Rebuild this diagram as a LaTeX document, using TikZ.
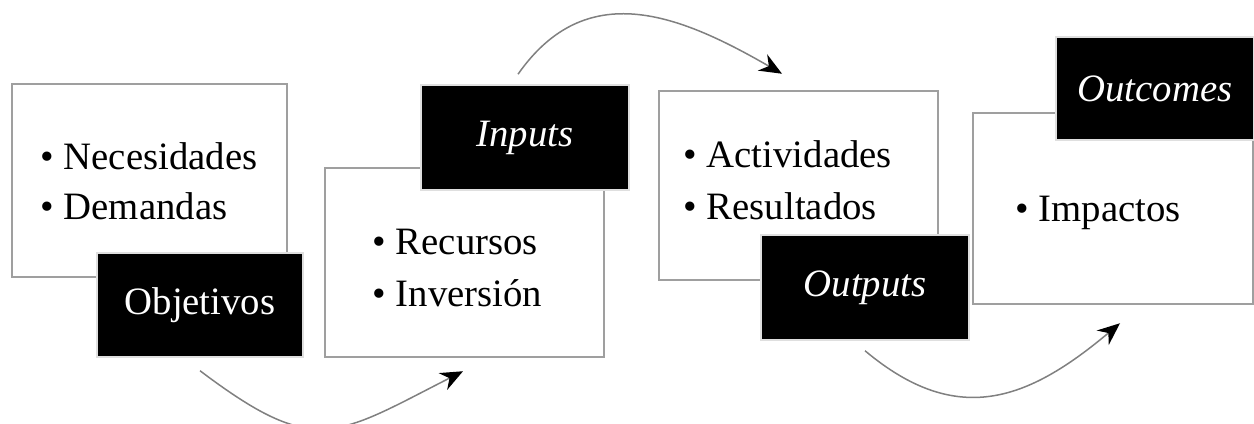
\documentclass[tikz,border=0pt]{standalone}
\usepackage{fontspec}
\setmainfont{Liberation Serif}
\usepackage{xcolor}
\usepackage{tikz}
\usetikzlibrary{arrows.meta}

\begin{document}
\begin{tikzpicture}[x=0.4pt,y=-0.4pt,
  box/.style={draw=gray!75,line width=1pt,fill=white,inner sep=0pt},
  tag/.style={draw=gray!25,line width=0.6pt,fill=black,text=white,inner sep=0pt,font=\fontsize{15.5}{20}\selectfont},
  item/.style={anchor=base west,inner sep=0pt,font=\fontsize{15.5}{20}\selectfont},
  flow/.style={draw=gray,line width=0.6pt,-{Stealth[length=9pt,width=7.5pt,black]}}]
\useasboundingbox (0,0) rectangle (1254,424);
% caja 1
\node[box,minimum width=110pt,minimum height=77.2pt] (nec) at (149.5,180.5) {};
\node[item] (nec1) at (40,170) {• Necesidades};
\node[item] (nec2) at (40,220) {• Demandas};
\node[tag,minimum width=82.4pt,minimum height=41.6pt] (obj) at (200,305) {Objetivos};
% caja 2
\node[box,minimum width=111.6pt,minimum height=75.6pt] (rec) at (464.5,262.5) {};
\node[item] (rec1) at (372,255) {• Recursos};
\node[item] (rec2) at (372,307) {• Inversión};
\node[tag,minimum width=83.2pt,minimum height=42pt] (inp) at (525,137.5) {\textit{Inputs}};
% caja 3
\node[box,minimum width=111.6pt,minimum height=75.6pt] (act) at (798.5,185.5) {};
\node[item] (act1) at (683,168) {• Actividades};
\node[item] (act2) at (683,220) {• Resultados};
\node[tag,minimum width=83.2pt,minimum height=42pt] (out) at (865,287.5) {\textit{Outputs}};
% caja 4
\node[box,minimum width=112pt,minimum height=76.4pt] (imp) at (1113,208.5) {};
\node[item] (imp1) at (1015,222) {• Impactos};
\node[tag,minimum width=79.2pt,minimum height=41.2pt] (res) at (1155,88.5) {\textit{Outcomes}};
% flechas
\draw[flow] ([yshift=-5.2pt]obj.south) to[out=-37,in=-153,looseness=1.4] ([shift={(-0.6pt,-5.2pt)}]rec.south);
\draw[flow] ([shift={(-2.8pt,4pt)}]inp.north) to[out=55,in=150,looseness=1.15] ([shift={(-6.6pt,6.4pt)}]act.north);
\draw[flow] ([yshift=-4pt]out.south) to[out=-40,in=-140,looseness=1.2] ([shift={(2.8pt,-7.2pt)}]imp.south);
\end{tikzpicture}
\end{document}
